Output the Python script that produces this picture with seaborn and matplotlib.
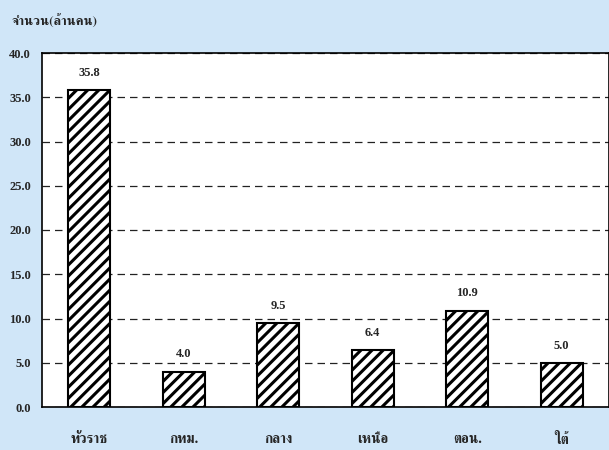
import matplotlib
matplotlib.use("Agg")
import matplotlib.pyplot as plt
import seaborn as sns
from matplotlib import font_manager
from matplotlib.ft2font import FT2Font

regions = ["ทั่วราช", "กทม.", "กลาง", "เหนือ", "ตอน.", "ใต้"]
people = [35.8, 4.0, 9.5, 6.4, 10.9, 5.0]
yticks = [0, 5, 10, 15, 20, 25, 30, 35, 40]


def find_thai_family():
    # pick any installed font that has Thai glyphs
    found = []
    for f in font_manager.fontManager.ttflist:
        try:
            if ord("ก") in FT2Font(f.fname).get_charmap():
                found.append(f.name)
        except Exception:
            pass
    for name in found:
        if "Serif" in name:
            return name
    return found[0] if found else "DejaVu Sans"


sns.set_style("white")
thai = find_thai_family()
plt.rcParams["font.family"] = ["Liberation Serif", thai, "DejaVu Sans"]
plt.rcParams["hatch.linewidth"] = 2.2
plt.rcParams["hatch.color"] = "black"

bg = "#d0e6f8"
fig = plt.figure(figsize=(6.09, 4.5), dpi=100, facecolor=bg)
ax = fig.add_axes([42 / 609, 43 / 450, 567 / 609, 354 / 450])

sns.barplot(x=regions, y=people, color="white", edgecolor="black",
            linewidth=1.5, hatch="///", width=0.44, ax=ax)

ax.set_facecolor("white")
ax.set_ylim(0, 40)
ax.set_xlim(-0.5, 5.5)
ax.set_yticks(yticks)
ax.set_yticklabels([f"{v:.1f}" for v in yticks], fontsize=9, fontweight="bold")
ax.yaxis.grid(True, linestyle=(0, (6, 4)), color="#222222", linewidth=0.9)
ax.set_axisbelow(True)

ax.set_xticks(range(len(regions)))
ax.set_xticklabels(regions, fontsize=10, fontweight="bold", family=[thai, "DejaVu Sans"])
ax.tick_params(axis="x", length=0, pad=19)
ax.set_xticks([i + 0.5 for i in range(-1, len(regions))], minor=True)
ax.tick_params(axis="x", which="minor", length=5, width=1, color="black", direction="out")
ax.tick_params(axis="y", length=5, width=1, color="black", direction="out", pad=3)
ax.set_xlabel("")
ax.set_ylabel("")

for s in ax.spines.values():
    s.set_color("black")
    s.set_linewidth(1.2)

ax.bar_label(ax.containers[0], fmt="%.1f", padding=8, fontsize=9, fontweight="bold")

fig.text(12 / 609, 1 - 22 / 450, "จำนวน(ล้านคน)", fontsize=9.5, fontweight="bold",
         va="center", family=[thai, "DejaVu Sans"])

fig.savefig("out.png", dpi=100, facecolor=bg)
